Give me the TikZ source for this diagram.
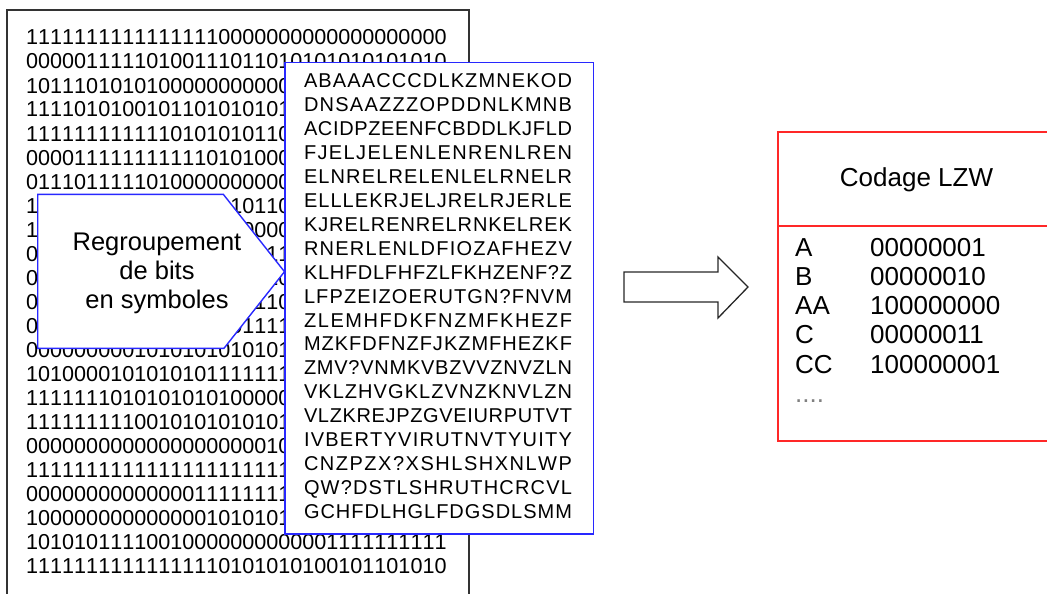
\documentclass[tikz,border=0pt]{standalone}
\usepackage{fontspec}
\setmainfont{Liberation Sans}
\newfontfamily\bitfont[Kerning=Off]{Liberation Sans}
\usepackage{tikz}
\definecolor{bitblue}{RGB}{40,40,255}
\definecolor{lzwred}{RGB}{255,40,40}
% spread the letters of one row over a fixed width
\newcommand\spreadrow[1]{\hbox to 268pt{\spreadaux#1\relax\unskip}}
\def\spreadaux#1{\ifx#1\relax\else#1\hfil\expandafter\spreadaux\fi}
\tikzset{
  bits/.style={anchor=base west, inner sep=0pt, font=\bitfont\fontsize{21.6}{24}\selectfont},
  letters/.style={anchor=base, inner sep=0pt, font=\fontsize{20}{24}\selectfont},
  lzwtext/.style={anchor=base west, inner sep=0pt, font=\fontsize{26}{29}\selectfont},
}

\begin{document}
\begin{tikzpicture}[x=1pt,y=-1pt]
  \useasboundingbox (0,0) rectangle (1047,594);
  \clip (0,0) rectangle (1047,594);
    % file of bits
    \draw[line width=1.6pt, black!80] (7,10) rectangle (469,620);
    \foreach \row [count=\i] in {
      11111111111111110000000000000000000,
      00000111110100111011010101010101010,
      1011101010100000000000,
      1111010100101101010101,
      1111111111110101010110,
      0000111111111110101000,
      0111011111010000000000,
      1010100110101110110110,
      1010111001010011100000,
      0101011100101010001011,
      0010111010101010101110,
      0011010101101010101110,
      0010101101010101101111,
      0000000001010101010101,
      1010000101010101111111,
      1111111010101010100000,
      1111111110010101010101,
      0000000000000000000010,
      1111111111111111111111,
      0000000000000011111111,
      1000000000000001010101,
      10101011110010000000000001111111111,
      11111111111111110101010100101101010}
      \node[bits] (bits\i) at (26,{45+24*(\i-1)}) {\row};
    % symbols
    \filldraw[fill=white, draw=bitblue, line width=1.4pt] (285,62.7) rectangle (593.5,534);
    \foreach \row [count=\i] in {
      ABAAACCCDLKZMNEKOD, DNSAAZZZOPDDNLKMNB, ACIDPZEENFCBDDLKJFLD,
      FJELJELENLENRENLREN, ELNRELRELENLELRNELR, ELLLEKRJELJRELRJERLE,
      KJRELRENRELRNKELREK, RNERLENLDFIOZAFHEZV, KLHFDLFHFZLFKHZENF?Z,
      LFPZEIZOERUTGN?FNVM, ZLEMHFDKFNZMFKHEZF, MZKFDFNZFJKZMFHEZKF,
      ZMV?VNMKVBZVVZNVZLN, VKLZHVGKLZVNZKNVLZN, VLZKREJPZGVEIURPUTVT,
      IVBERTYVIRUTNVTYUITY, CNZPZX?XSHLSHXNLWP, QW?DSTLSHRUTHCRCVL,
      GCHFDLHGLFDGSDLSMM}
      \node[letters] (sym\i) at (438,{88+23.9*(\i-1)}) {\expandafter\spreadrow\expandafter{\row}};
    % grouping
    \filldraw[fill=white, draw=bitblue, line width=1.4pt] (37.7,194.3) -- (223.3,194.3)
      -- (284.5,271.7) -- (224,348.3) -- (37.7,348.3) -- cycle;
    \node[inner sep=0pt, align=center, font=\fontsize{25.5}{29}\selectfont] (groupe) at (157,273)
      {Regroupement\\de bits\\en symboles};
    % arrow
    \draw[line width=1.3pt, black!85] (624,272) -- (718,272) -- (718,257) -- (748,287)
      -- (718,318) -- (718,302) -- (624,302) -- cycle;
    % LZW table
    \draw[line width=1.6pt, lzwred] (1060,132) -- (778,132) -- (778,441) -- (1060,441);
    \draw[line width=1.6pt, lzwred] (778,226) -- (1060,226);
    \node[lzwtext, anchor=base] (titre) at (916.5,186) {Codage LZW};
    \foreach \s/\c [count=\i] in {A/00000001,B/00000010,AA/100000000,C/00000011,CC/100000001} {
      \node[lzwtext] (cle\i) at (795,{256+29.3*(\i-1)}) {\s};
      \node[lzwtext] (code\i) at (870,{256+29.3*(\i-1)}) {\c};
    }
    \node[lzwtext, text=gray] (suite) at (795,402.5) {....};
  \end{tikzpicture}
\end{document}
